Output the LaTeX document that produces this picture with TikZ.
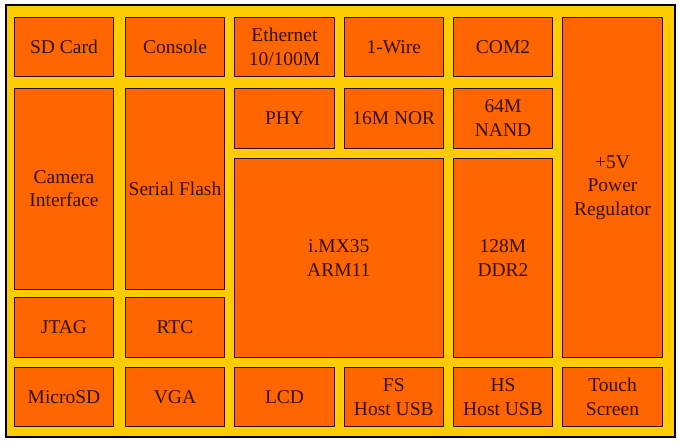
\documentclass[tikz,border=0pt]{standalone}
\usepackage{fontspec}
\setmainfont{Liberation Serif}
\newfontfamily\boxfont{Liberation Serif}
\definecolor{bggold}{HTML}{FFCC00}
\definecolor{boxorange}{HTML}{FF6600}
\definecolor{txtbrown}{HTML}{331000}
\definecolor{edgedark}{HTML}{2A0E00}
\tikzset{
  blk/.style={draw=edgedark, line width=0.9pt, fill=boxorange, inner sep=0pt,
    align=center, text=txtbrown, font=\boxfont\fontsize{19.5}{23.5}\selectfont},
}
\begin{document}
\begin{tikzpicture}[x=1pt,y=-1pt]
\useasboundingbox (0,0) rectangle (679,443);
\fill[white] (0,0) rectangle (679,443);
\draw[line width=1.3pt, fill=bggold] (6,5) rectangle (675,437);
% row 0
\node[blk, minimum width=99.4pt, minimum height=59pt] (sd) at (64,46.8) {SD Card};
\node[blk, minimum width=99.4pt, minimum height=59pt] (con) at (175,46.8) {Console};
\node[blk, minimum width=100.4pt, minimum height=59pt] (eth) at (284.5,46.8) {Ethernet\\10/100M};
\node[blk, minimum width=99pt, minimum height=59pt] (wire) at (393.8,46.8) {1-Wire};
\node[blk, minimum width=99.4pt, minimum height=59pt] (com) at (503,46.8) {COM2};
\node[blk, minimum width=100.4pt, minimum height=340pt] (pwr) at (612.5,187.3) {+5V\\Power\\Regulator};
% row 1
\node[blk, minimum width=99.4pt, minimum height=200.7pt] (cam) at (64,188.65) {Camera\\Interface};
\node[blk, minimum width=99.4pt, minimum height=200.7pt] (sf) at (175,188.65) {Serial Flash};
\node[blk, minimum width=100.4pt, minimum height=60pt] (phy) at (284.5,118.3) {PHY};
\node[blk, minimum width=99pt, minimum height=60pt] (nor) at (393.8,118.3) {16M NOR};
\node[blk, minimum width=99.4pt, minimum height=60pt] (nand) at (503,118.3) {64M\\NAND};
% middle
\node[blk, minimum width=209pt, minimum height=199pt] (cpu) at (338.8,257.8) {i.MX35\\ARM11};
\node[blk, minimum width=99.4pt, minimum height=199pt] (ddr) at (503,257.8) {128M\\DDR2};
% row 2
\node[blk, minimum width=99.4pt, minimum height=60pt] (jtag) at (64,327.3) {JTAG};
\node[blk, minimum width=99.4pt, minimum height=60pt] (rtc) at (175,327.3) {RTC};
% row 3
\node[blk, minimum width=99.4pt, minimum height=59.4pt] (msd) at (64,397) {MicroSD};
\node[blk, minimum width=99.4pt, minimum height=59.4pt] (vga) at (175,397) {VGA};
\node[blk, minimum width=100.4pt, minimum height=59.4pt] (lcd) at (284.5,397) {LCD};
\node[blk, minimum width=99pt, minimum height=59.4pt] (fs) at (393.8,397) {FS\\Host USB};
\node[blk, minimum width=99.4pt, minimum height=59.4pt] (hs) at (503,397) {HS\\Host USB};
\node[blk, minimum width=100.4pt, minimum height=59.4pt] (touch) at (612.5,397) {Touch\\Screen};
\end{tikzpicture}
\end{document}
